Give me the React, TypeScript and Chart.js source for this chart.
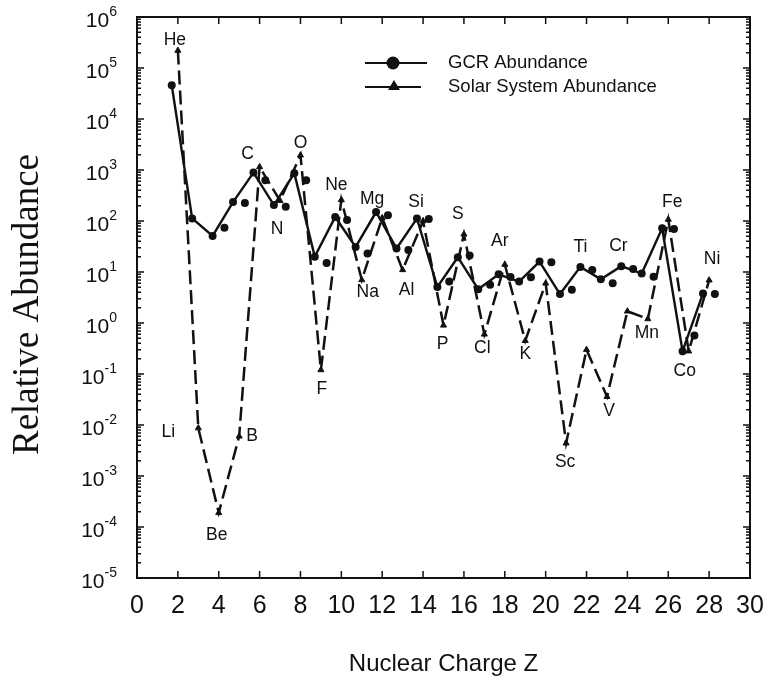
import React, { useEffect, useRef } from 'react';
import { Chart, registerables } from 'chart.js';

Chart.register(...registerables);

// ---------- data ----------
const ELEMENTS = ['He', 'Li', 'Be', 'B', 'C', 'N', 'O', 'F', 'Ne', 'Na', 'Mg', 'Al', 'Si', 'P', 'S', 'Cl', 'Ar', 'K', 'Ca', 'Sc', 'Ti', 'V', 'Cr', 'Mn', 'Fe', 'Co', 'Ni'];
const Z_VALUES = [2, 3, 4, 5, 6, 7, 8, 9, 10, 11, 12, 13, 14, 15, 16, 17, 18, 19, 20, 21, 22, 23, 24, 25, 26, 27, 28];

// Solar system abundance (dashed line, triangles)
const SOLAR = [2.2e5, 0.0087, 1.9e-4, 0.006, 1150, 250, 1950, 0.12, 260, 7, 115, 11, 100, 0.9, 55, 0.6, 14, 0.45, 6, 0.0044, 0.3, 0.036, 1.7, 1.2, 107, 0.28, 6.9];

// GCR abundance, connected measurements (solid line, circles)
const GCR_LINE = [4.6e4, 112, 51, 235, 890, 205, 860, 20, 120, 31, 150, 29, 112, 5.1, 19.5, 4.6, 9, 6.5, 16, 3.7, 12.6, 7.2, 13, 9.3, 72, 0.28, 3.8];

// GCR abundance, second set of measurements (circles only)
const GCR_DOTS = [null, null, 74, 225, 630, 190, 630, 15, 105, 23, 130, 27, 110, 6.5, 21, 5.6, 8, 7.9, 15.5, 4.5, 11, 6.0, 11.5, 8.1, 70, 0.57, 3.7];

const X_TICKS = [0, 2, 4, 6, 8, 10, 12, 14, 16, 18, 20, 22, 24, 26, 28, 30];
const Y_DECADES = [-5, -4, -3, -2, -1, 0, 1, 2, 3, 4, 5, 6];

const SERIES_NAMES = ['GCR Abundance', 'Solar System Abundance'];
const X_TITLE = 'Nuclear Charge Z';
const Y_TITLE = 'Relative Abundance';

// ---------- style / layout ----------
const GCR_OFFSET = -0.3;
const DOT_OFFSET = 0.28;
// element label placement relative to the solar point (pixels); null = no label
const LABEL_OFFSETS: ([number, number] | null)[] = [
  [-3, -10], [-30, 4], [-2, 22], [13, 0], [-12, -13], [-3, 28], [0, -12], [1, 19], [-5, -15], [6, 12],
  [-10, -19], [4, 20], [-7, -19], [-1, 19], [-6, -20], [-2, 14], [-5, -23], [0, 13], null, [-1, 19],
  [-6, -102], [2, 15], [-9, -65], [-1, 14], [4, -17], [-4, 20], [3, -21],
];

const INK = '#111';
const SANS = '"Liberation Sans", Arial, Helvetica, sans-serif';
const SERIF = '"Liberation Serif", "Times New Roman", serif';

const framePlugin = {
  id: 'framePlugin',
  afterDatasetsDraw(chart: any) {
    const ctx = chart.ctx as CanvasRenderingContext2D;
    const xs = chart.scales.x;
    const ys = chart.scales.y;
    const ca = chart.chartArea;
    ctx.save();
    ctx.fillStyle = INK;
    ctx.strokeStyle = INK;

    // element labels
    ctx.font = `17.5px ${SANS}`;
    ctx.textAlign = 'center';
    ctx.textBaseline = 'middle';
    ELEMENTS.forEach((el, i) => {
      const off = LABEL_OFFSETS[i];
      if (!off) return;
      const px = xs.getPixelForValue(Z_VALUES[i]) + off[0];
      const py = ys.getPixelForValue(SOLAR[i]) + off[1];
      ctx.fillText(el, px, py);
    });

    // frame
    ctx.lineWidth = 2;
    ctx.strokeRect(ca.left, ca.top, ca.right - ca.left, ca.bottom - ca.top);

    // ticks
    ctx.lineWidth = 1.5;
    ctx.beginPath();
    X_TICKS.forEach((t) => {
      const px = xs.getPixelForValue(t);
      ctx.moveTo(px, ca.bottom);
      ctx.lineTo(px, ca.bottom - 7);
      ctx.moveTo(px, ca.top);
      ctx.lineTo(px, ca.top + 7);
    });
    Y_DECADES.forEach((n) => {
      const py = ys.getPixelForValue(Math.pow(10, n));
      ctx.moveTo(ca.left, py);
      ctx.lineTo(ca.left + 7, py);
      ctx.moveTo(ca.right, py);
      ctx.lineTo(ca.right - 7, py);
      if (n < Y_DECADES[Y_DECADES.length - 1]) {
        for (let m = 2; m <= 9; m++) {
          const pm = ys.getPixelForValue(m * Math.pow(10, n));
          ctx.moveTo(ca.left, pm);
          ctx.lineTo(ca.left + 4, pm);
          ctx.moveTo(ca.right, pm);
          ctx.lineTo(ca.right - 4, pm);
        }
      }
    });
    ctx.stroke();

    // x tick labels
    ctx.font = `25px ${SANS}`;
    ctx.textAlign = 'center';
    ctx.textBaseline = 'middle';
    X_TICKS.forEach((t) => {
      ctx.fillText(String(t), xs.getPixelForValue(t), ca.bottom + 28);
    });

    // y tick labels 10^n
    Y_DECADES.forEach((n) => {
      const py = ys.getPixelForValue(Math.pow(10, n));
      ctx.font = `21px ${SANS}`;
      const bw = ctx.measureText('10').width;
      ctx.font = `14px ${SANS}`;
      const sup = String(n);
      const sw = ctx.measureText(sup).width;
      const right = ca.left - 20;
      const x0 = right - bw - sw;
      ctx.textAlign = 'left';
      ctx.font = `21px ${SANS}`;
      ctx.fillText('10', x0, py + 4);
      ctx.font = `14px ${SANS}`;
      ctx.fillText(sup, x0 + bw, py - 5);
    });

    // axis titles
    ctx.font = `24px ${SANS}`;
    ctx.textAlign = 'center';
    ctx.fillText(X_TITLE, (ca.left + ca.right) / 2, ca.bottom + 86);
    ctx.save();
    ctx.translate(28, (ca.top + ca.bottom) / 2 + 7);
    ctx.rotate(-Math.PI / 2);
    ctx.font = `37px ${SERIF}`;
    ctx.fillText(Y_TITLE, 0, 0);
    ctx.restore();

    // legend
    const lx = 365;
    const ly1 = 63;
    const ly2 = 87;
    ctx.lineWidth = 2.2;
    ctx.beginPath();
    ctx.moveTo(lx, ly1);
    ctx.lineTo(lx + 62, ly1);
    ctx.moveTo(lx, ly2);
    ctx.lineTo(lx + 56, ly2);
    ctx.stroke();
    ctx.beginPath();
    ctx.arc(lx + 28, ly1, 6.5, 0, Math.PI * 2);
    ctx.fill();
    ctx.beginPath();
    ctx.moveTo(lx + 29, ly2 - 7);
    ctx.lineTo(lx + 35, ly2 + 3);
    ctx.lineTo(lx + 23, ly2 + 3);
    ctx.closePath();
    ctx.fill();
    ctx.font = `18.5px ${SANS}`;
    ctx.textAlign = 'left';
    ctx.fillText(SERIES_NAMES[0], lx + 83, ly1);
    ctx.fillText(SERIES_NAMES[1], lx + 83, ly2);

    ctx.restore();
  },
};

export default function App() {
  const canvasRef = useRef<HTMLCanvasElement | null>(null);

  useEffect(() => {
    if (!canvasRef.current) return;
    const gcrLine = Z_VALUES.map((z, i) => ({ x: z + GCR_OFFSET, y: GCR_LINE[i] }));
    const gcrDots = Z_VALUES.map((z, i) => ({ x: z + DOT_OFFSET, y: GCR_DOTS[i] })).filter((p) => p.y !== null);
    const solar = Z_VALUES.map((z, i) => ({ x: z, y: SOLAR[i] }));

    const chart = new Chart(canvasRef.current, {
      type: 'scatter',
      data: {
        datasets: [
          {
            label: SERIES_NAMES[1],
            data: solar,
            showLine: true,
            borderColor: INK,
            borderWidth: 2.5,
            borderDash: [14, 6],
            pointStyle: 'triangle',
            pointRadius: 3.5,
            pointBackgroundColor: INK,
            pointBorderColor: INK,
            pointBorderWidth: 1,
          },
          {
            label: SERIES_NAMES[0],
            data: gcrLine,
            showLine: true,
            borderColor: INK,
            borderWidth: 2.4,
            pointStyle: 'circle',
            pointRadius: 4,
            pointBackgroundColor: INK,
            pointBorderColor: INK,
            pointBorderWidth: 0,
          },
          {
            label: SERIES_NAMES[0] + ' (2)',
            data: gcrDots as any,
            showLine: false,
            pointStyle: 'circle',
            pointRadius: 4,
            pointBackgroundColor: INK,
            pointBorderColor: INK,
            pointBorderWidth: 0,
          },
        ],
      },
      options: {
        responsive: false,
        animation: false,
        layout: { padding: { left: 137, right: 16, top: 17, bottom: 101 } },
        plugins: { legend: { display: false }, tooltip: { enabled: false } },
        scales: {
          x: { type: 'linear', min: 0, max: 30, display: false },
          y: { type: 'logarithmic', min: 1e-5, max: 1e6, display: false },
        },
      },
      plugins: [framePlugin],
    });
    return () => chart.destroy();
  }, []);

  return (
    <div style={{ position: 'fixed', left: 0, top: 0, width: 766, height: 679, background: '#fff' }}>
      <canvas ref={canvasRef} width={766} height={679} />
    </div>
  );
}
